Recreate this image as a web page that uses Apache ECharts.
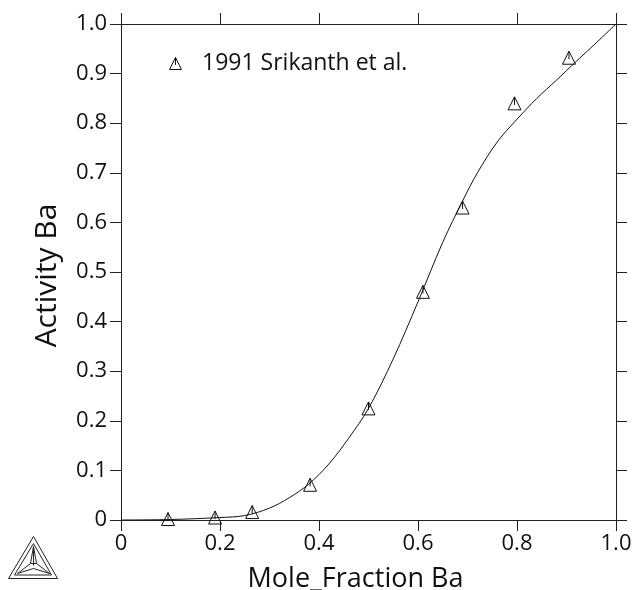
<!DOCTYPE html>
<html><head><meta charset="utf-8">
<style>html,body{margin:0;padding:0;background:#fff}#c{width:633px;height:590px}</style>
<script src="https://cdn.jsdelivr.net/npm/echarts@6/dist/echarts.min.js"></script>
</head><body><div id="c"></div>
<script>
const curveX = [0,0.1,0.2,0.25,0.3,0.34,0.38,0.42,0.46,0.5,0.55,0.6,0.65,0.69,0.72,0.76,0.8,0.84,0.88,0.92,0.96,1];
const curveY = [0,0.001,0.005,0.009,0.024,0.045,0.073,0.113,0.165,0.225,0.325,0.44,0.56,0.643,0.7,0.762,0.808,0.85,0.887,0.925,0.962,1];
const expX = [0.095,0.19,0.265,0.382,0.5,0.61,0.69,0.795,0.905];
const expY = [0.002,0.005,0.016,0.071,0.225,0.46,0.63,0.84,0.932];
const tickLabelsY = ['0','0.1','0.2','0.3','0.4','0.5','0.6','0.7','0.8','0.9','1.0'];
const tickLabelsX = {0:'0',0.2:'0.2',0.4:'0.4',0.6:'0.6',0.8:'0.8',1:'1.0'};
const expName = '1991 Srikanth et al.';
const FONT = '"Open Sans"';
const INK = '#222';
const tri = 'path://M50 0L100 100L0 100ZM50 0L50 62';
const chart = echarts.init(document.getElementById('c'),null,{renderer:'canvas'});
const axisBase = {min:0,max:1,
  axisLine:{show:true,onZero:false,lineStyle:{color:INK,width:1}},
  axisTick:{show:true,inside:false,length:11,lineStyle:{color:INK,width:1}},
  splitLine:{show:false},minorTick:{show:false}};
const dark = (color,pts,closed)=>({type:closed?'polygon':'polyline',silent:true,
  shape:{points:pts},style:{fill:'none',stroke:color,lineWidth:1}});
chart.setOption({
  animation:false,
  backgroundColor:'#fff',
  grid:{left:121,right:17,top:24,bottom:70,containLabel:false,outerBoundsMode:'none'},
  legend:{show:true,left:164,top:47,orient:'horizontal',itemWidth:13,itemHeight:12,itemGap:19,
    data:[{name:expName,icon:tri,itemStyle:{color:'rgba(0,0,0,0)',borderColor:'#111',borderWidth:1}}],
    textStyle:{fontFamily:FONT,fontSize:23,color:'#111',padding:[0,0,0,15]},
    selectedMode:false},
  xAxis:[
    {...axisBase,type:'value',position:'bottom',interval:0.2,
      name:'Mole_Fraction Ba',nameLocation:'middle',nameGap:46,
      nameTextStyle:{fontFamily:FONT,fontSize:27,color:'#111',padding:[0,26,0,0]},
      axisLabel:{fontFamily:FONT,fontSize:22,color:'#111',margin:13,showMaxLabel:true,showMinLabel:true,
        formatter:v=>tickLabelsX[Math.round(v*10)/10]}},
    {...axisBase,type:'value',position:'top',interval:0.2,axisLabel:{show:false}}
  ],
  yAxis:[
    {...axisBase,type:'value',position:'left',interval:0.1,
      name:'Activity Ba',nameLocation:'middle',nameGap:59,nameRotate:90,
      nameTextStyle:{fontFamily:FONT,fontSize:30,color:'#111',padding:[0,7,0,0]},
      axisLabel:{fontFamily:FONT,fontSize:22,color:'#111',margin:14,
        formatter:v=>tickLabelsY[Math.round(v*10)]}},
    {...axisBase,type:'value',position:'right',interval:0.1,axisLabel:{show:false}}
  ],
  series:[
    {name:'Calculated',type:'line',smooth:0.35,showSymbol:false,symbol:'none',
      data:curveX.map((x,i)=>[x,curveY[i]]),
      lineStyle:{color:'#111',width:1},z:2},
    {name:expName,type:'scatter',symbol:tri,symbolSize:[13,13],
      data:expX.map((x,i)=>[x,expY[i]]),
      itemStyle:{color:'rgba(0,0,0,0)',borderColor:'#111',borderWidth:1,opacity:1},z:3}
  ],
  graphic:[{type:'group',left:6,top:534,silent:true,children:[
    dark('#222',[[25,0],[49,42],[0,42]],true),
    dark('#222',[[25,7],[43,38.5],[6,38.5]],true),
    dark('#222',[[25,10],[28,27],[41,37],[25,32],[9,37],[22,27]],true),
    {type:'line',silent:true,shape:{x1:25,y1:10,x2:25,y2:29},style:{stroke:'#222',lineWidth:1}},
    {type:'line',silent:true,shape:{x1:22,y1:27,x2:28,y2:27},style:{stroke:'#222',lineWidth:1}}
  ]}]
});
</script></body></html>
